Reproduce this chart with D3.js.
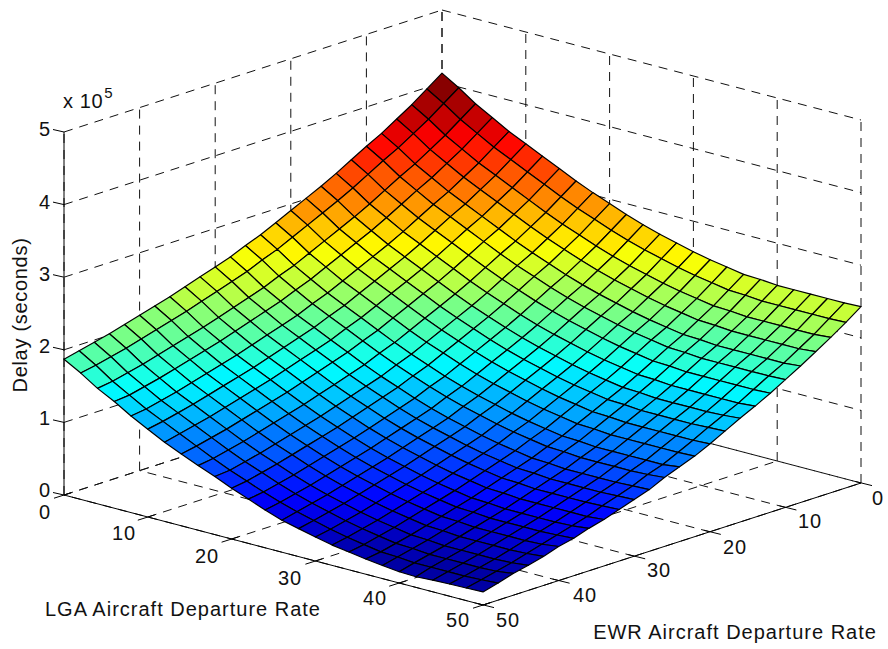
<!DOCTYPE html>
<html><head><meta charset="utf-8">
<script src="https://cdnjs.cloudflare.com/ajax/libs/d3/7.8.5/d3.min.js"></script>
<style>html,body{margin:0;padding:0;background:#fff}svg{display:block}text{font-family:"Liberation Sans",Arial,sans-serif;fill:#111}</style>
</head><body><div id="chart"></div>
<script>
const lgaRates=[0,2,4,6,8,10,12,14,16,18,20,22,24,26,28,30,32,34,36,38,40,42,44,46,48,50];
const ewrRates=[0,2,4,6,8,10,12,14,16,18,20,22,24,26,28,30,32,34,36,38,40,42,44,46,48,50];
const lgaTicks=[0,10,20,30,40,50];
const ewrTicks=[0,10,20,30,40,50];
const delayTicks=[0,1,2,3,4,5];
// Delay in units of 1e5 seconds: one row per EWR rate, one column per LGA rate
const delay=[
[4.13,3.99,3.83,3.70,3.57,3.46,3.35,3.24,3.13,3.03,2.94,2.85,2.77,2.70,2.64,2.58,2.53,2.49,2.45,2.44,2.42,2.42,2.42,2.42,2.42,2.43],
[3.98,3.84,3.68,3.55,3.42,3.31,3.20,3.09,2.98,2.88,2.79,2.70,2.62,2.55,2.49,2.43,2.38,2.34,2.30,2.29,2.27,2.27,2.27,2.27,2.27,2.28],
[3.83,3.69,3.53,3.40,3.27,3.16,3.05,2.94,2.83,2.73,2.64,2.55,2.47,2.40,2.34,2.28,2.23,2.19,2.15,2.14,2.12,2.12,2.12,2.12,2.12,2.14],
[3.70,3.56,3.40,3.27,3.14,3.03,2.92,2.81,2.70,2.60,2.51,2.42,2.34,2.27,2.21,2.15,2.10,2.06,2.02,2.01,1.99,1.99,1.99,1.99,1.99,2.01],
[3.57,3.43,3.27,3.14,3.01,2.90,2.79,2.68,2.57,2.47,2.38,2.29,2.21,2.14,2.08,2.02,1.97,1.93,1.89,1.88,1.86,1.86,1.86,1.86,1.86,1.88],
[3.46,3.32,3.16,3.03,2.90,2.79,2.68,2.57,2.46,2.36,2.27,2.18,2.10,2.03,1.97,1.91,1.86,1.82,1.78,1.77,1.75,1.75,1.75,1.75,1.75,1.76],
[3.34,3.20,3.04,2.91,2.78,2.67,2.56,2.45,2.34,2.24,2.15,2.06,1.98,1.91,1.85,1.79,1.74,1.70,1.66,1.65,1.63,1.63,1.63,1.63,1.63,1.64],
[3.22,3.08,2.92,2.79,2.66,2.55,2.44,2.33,2.22,2.12,2.03,1.94,1.86,1.79,1.73,1.67,1.62,1.58,1.54,1.53,1.51,1.51,1.51,1.51,1.51,1.53],
[3.11,2.97,2.81,2.68,2.55,2.44,2.33,2.22,2.11,2.01,1.92,1.83,1.75,1.68,1.62,1.56,1.51,1.47,1.43,1.42,1.40,1.40,1.40,1.40,1.41,1.43],
[3.01,2.87,2.71,2.58,2.45,2.34,2.23,2.12,2.01,1.91,1.82,1.73,1.65,1.58,1.52,1.46,1.41,1.37,1.33,1.32,1.30,1.30,1.30,1.30,1.31,1.32],
[2.91,2.77,2.61,2.48,2.35,2.24,2.13,2.02,1.91,1.81,1.72,1.63,1.55,1.48,1.42,1.36,1.31,1.27,1.23,1.22,1.20,1.20,1.20,1.20,1.20,1.21],
[2.81,2.67,2.51,2.38,2.25,2.14,2.03,1.92,1.81,1.71,1.62,1.53,1.45,1.38,1.32,1.26,1.21,1.17,1.13,1.12,1.10,1.10,1.10,1.10,1.10,1.11],
[2.71,2.57,2.41,2.28,2.15,2.04,1.93,1.82,1.71,1.61,1.52,1.43,1.35,1.28,1.22,1.16,1.11,1.07,1.03,1.02,1.00,1.00,1.00,1.00,1.00,1.03],
[2.63,2.49,2.33,2.20,2.07,1.96,1.85,1.74,1.63,1.53,1.44,1.35,1.27,1.20,1.14,1.08,1.03,0.99,0.95,0.94,0.92,0.92,0.92,0.92,0.93,0.95],
[2.54,2.40,2.24,2.11,1.98,1.87,1.76,1.65,1.54,1.44,1.35,1.26,1.18,1.11,1.05,0.99,0.94,0.90,0.86,0.85,0.83,0.83,0.83,0.83,0.84,0.85],
[2.47,2.33,2.17,2.04,1.91,1.80,1.69,1.58,1.47,1.37,1.28,1.19,1.11,1.04,0.98,0.92,0.87,0.83,0.79,0.78,0.76,0.76,0.76,0.76,0.77,0.78],
[2.40,2.26,2.10,1.97,1.84,1.73,1.62,1.51,1.40,1.30,1.21,1.12,1.04,0.97,0.91,0.85,0.80,0.76,0.72,0.71,0.69,0.69,0.69,0.69,0.70,0.71],
[2.33,2.19,2.03,1.90,1.77,1.66,1.55,1.44,1.33,1.23,1.14,1.05,0.97,0.90,0.84,0.78,0.73,0.69,0.65,0.64,0.62,0.62,0.62,0.62,0.62,0.64],
[2.26,2.12,1.96,1.83,1.70,1.59,1.48,1.37,1.26,1.16,1.07,0.98,0.90,0.83,0.77,0.71,0.66,0.62,0.58,0.57,0.55,0.55,0.55,0.55,0.56,0.585],
[2.20,2.06,1.90,1.77,1.64,1.53,1.42,1.31,1.20,1.10,1.01,0.92,0.84,0.77,0.71,0.65,0.60,0.56,0.52,0.51,0.49,0.49,0.49,0.49,0.50,0.515],
[2.14,2.00,1.84,1.71,1.58,1.47,1.36,1.25,1.14,1.04,0.95,0.86,0.78,0.71,0.65,0.59,0.54,0.50,0.46,0.45,0.43,0.43,0.43,0.43,0.44,0.47],
[2.08,1.94,1.78,1.65,1.52,1.41,1.30,1.19,1.08,0.98,0.89,0.80,0.72,0.65,0.59,0.53,0.48,0.44,0.40,0.39,0.37,0.37,0.37,0.37,0.38,0.40],
[2.02,1.88,1.72,1.59,1.46,1.35,1.24,1.13,1.02,0.92,0.83,0.74,0.66,0.59,0.53,0.47,0.42,0.38,0.34,0.33,0.31,0.31,0.31,0.31,0.32,0.345],
[1.97,1.83,1.67,1.54,1.41,1.30,1.19,1.08,0.97,0.87,0.78,0.69,0.61,0.54,0.48,0.42,0.37,0.33,0.29,0.28,0.26,0.26,0.26,0.26,0.27,0.30],
[1.92,1.78,1.62,1.49,1.36,1.25,1.14,1.03,0.92,0.82,0.73,0.64,0.56,0.49,0.43,0.37,0.32,0.28,0.24,0.23,0.21,0.21,0.21,0.21,0.22,0.235],
[1.87,1.74,1.59,1.47,1.33,1.21,1.09,0.99,0.89,0.80,0.70,0.61,0.52,0.44,0.385,0.33,0.28,0.245,0.21,0.18,0.155,0.147,0.16,0.168,0.173,0.18]
];
const W=888,H=649;
const svg=d3.select('#chart').append('svg').attr('width',W).attr('height',H);
const lgaX=d3.scaleLinear().domain([0,50]).range([0,419]);
const lgaY=d3.scaleLinear().domain([0,50]).range([0,110]);
const ewrX=d3.scaleLinear().domain([0,50]).range([0,-378]);
const ewrY=d3.scaleLinear().domain([0,50]).range([0,122]);
const zY=d3.scaleLinear().domain([0,5]).range([0,-363]);
const origin=[442,373];
const proj=(l,e,z)=>[origin[0]+lgaX(l)+ewrX(e),origin[1]+lgaY(l)+ewrY(e)+zY(z)];
const line=d3.line();
const flat=delay.flat();
const zMin=d3.min(flat),zMax=d3.max(flat);
const jet=d3.scaleLinear().domain([0,.125,.375,.625,.875,1])
  .range(['#00008f','#0000ff','#00ffff','#ffff00','#ff0000','#800000']).clamp(true);
const level=d3.scaleQuantize().domain([zMin,zMax]).range(d3.range(64));
const color=z=>jet((level(z)+.5)/64);

const grid=svg.append('g').attr('fill','none').attr('stroke','#111').attr('stroke-width',1).attr('stroke-dasharray','9,7');
const seg=(a,b)=>grid.append('path').attr('d',line([a,b]));
lgaTicks.forEach(l=>{seg(proj(l,50,0),proj(l,0,0));seg(proj(l,0,0),proj(l,0,5));});
ewrTicks.forEach(e=>{seg(proj(50,e,0),proj(0,e,0));seg(proj(0,e,0),proj(0,e,5));});
delayTicks.forEach(z=>{seg(proj(0,50,z),proj(0,0,z));seg(proj(0,0,z),proj(50,0,z));});

const ax=svg.append('g').attr('fill','none').attr('stroke','#000').attr('stroke-width',1);
const sol=(a,b)=>ax.append('path').attr('d',line([a,b]));
sol(proj(0,50,0),proj(0,50,5));
sol(proj(0,50,0),proj(50,50,0));
sol(proj(50,50,0),proj(50,0,0));
delayTicks.forEach(z=>{const p=proj(0,50,z);sol(p,[p[0]-11,p[1]-2.5]);});
lgaTicks.forEach(l=>{const p=proj(l,50,0);sol([p[0]+7,p[1]-2.2],[p[0]-10,p[1]+3.2]);});
ewrTicks.forEach(e=>{const p=proj(50,e,0);sol([p[0]-6,p[1]-1.6],[p[0]+11,p[1]+2.6]);});

const faces=[];
for(let j=0;j<ewrRates.length-1;j++)for(let i=0;i<lgaRates.length-1;i++)faces.push({i,j});
svg.append('g').selectAll('path').data(faces).join('path')
 .attr('d',f=>line([[f.i,f.j],[f.i+1,f.j],[f.i+1,f.j+1],[f.i,f.j+1]].map(([i,j])=>proj(lgaRates[i],ewrRates[j],delay[j][i])))+'Z')
 .attr('fill',f=>color(delay[f.j][f.i]))
 .attr('stroke','#000').attr('stroke-width',1.2).attr('stroke-linejoin','round');

const fs=20;
const txt=(x,y,s,anchor='middle')=>svg.append('text').attr('x',x).attr('y',y).attr('text-anchor',anchor).attr('font-size',fs).attr('letter-spacing',1).attr('dominant-baseline','central').text(s);
const zLabY=[490,418,346,274,202,129];
delayTicks.forEach((z,k)=>txt(51,zLabY[k],z,'end'));
const lLab=[[45,512],[124,533],[207,556],[290,578],[375,598],[458,620]];
lgaTicks.forEach((t,k)=>txt(lLab[k][0],lLab[k][1],t));
const eLab=[[878,498],[810,521],[735,547],[659,570],[585,595],[508,620]];
ewrTicks.forEach((t,k)=>txt(eLab[k][0],eLab[k][1],t));
const mult=svg.append('text').attr('x',63).attr('y',108).attr('font-size',fs).attr('letter-spacing',.6);
mult.append('tspan').text('x 10');
mult.append('tspan').attr('dx',1).attr('dy',-10).attr('font-size',15).text('5');
txt(183,609,'LGA Aircraft Departure Rate');
txt(735,632,'EWR Aircraft Departure Rate');
svg.append('text').attr('transform','translate(20,315) rotate(-90)').attr('text-anchor','middle').attr('dominant-baseline','central').attr('font-size',fs).attr('letter-spacing',.7).text('Delay (seconds)');
</script></body></html>
